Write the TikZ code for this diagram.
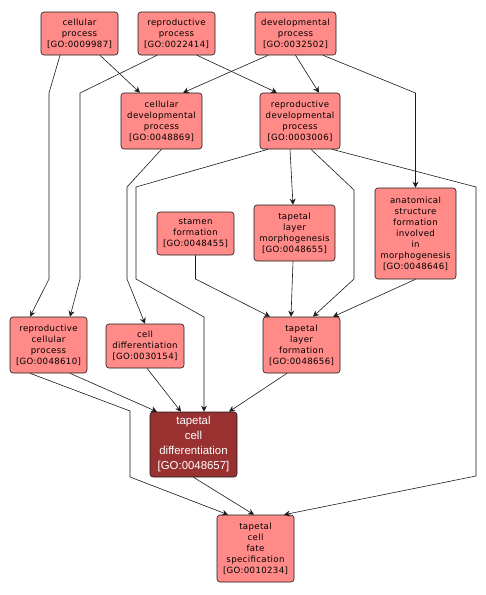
\documentclass[tikz,border=0pt]{standalone}
\usepackage{fontspec}
\setmainfont{DejaVu Sans}[LetterSpace=4]
\newfontfamily\hlfont{Liberation Sans}
\usepackage{xcolor}
\usepackage{tikz}
\usetikzlibrary{arrows.meta}
\definecolor{GOsalmon}{HTML}{FF8A87}
\definecolor{GOdark}{HTML}{9A3131}
\definecolor{GOedge}{HTML}{1A1A1A}

\tikzset{
  goterm/.style={draw=GOedge, fill=GOsalmon, rounded corners=3pt, line width=0.6pt,
    align=center, inner sep=0pt, font=\fontsize{8.6}{11}\selectfont},
  gohit/.style={goterm, fill=GOdark, text=white, font=\hlfont\fontsize{11.4}{15}\selectfont},
  isa/.style={GOedge, line width=0.6pt, -{Stealth[length=6pt,width=6pt,inset=2pt]}}
}

\begin{document}
\begin{tikzpicture}[x=1pt, y=-1pt]
  \useasboundingbox (0,0) rectangle (486,595);

  % terms
  \node[goterm, minimum width=77pt, minimum height=43pt] (cellproc) at (79.5,33.5)
    {cellular\\process\\{[}GO:0009987{]}};
  \node[goterm, minimum width=77pt, minimum height=43pt] (reproproc) at (176.5,33.5)
    {reproductive\\process\\{[}GO:0022414{]}};
  \node[goterm, minimum width=81pt, minimum height=43pt] (devproc) at (295.5,33.5)
    {developmental\\process\\{[}GO:0032502{]}};
  \node[goterm, minimum width=81pt, minimum height=56pt] (celldev) at (161.5,121)
    {cellular\\developmental\\process\\{[}GO:0048869{]}};
  \node[goterm, minimum width=80pt, minimum height=56pt] (reprodev) at (300,121)
    {reproductive\\developmental\\process\\{[}GO:0003006{]}};
  \node[goterm, minimum width=77pt, minimum height=43pt] (stamen) at (195.5,233.5)
    {stamen\\formation\\{[}GO:0048455{]}};
  \node[goterm, minimum width=81pt, minimum height=56pt] (tapmorph) at (294.5,233)
    {tapetal\\layer\\morphogenesis\\{[}GO:0048655{]}};
  \node[goterm, minimum width=81pt, minimum height=91pt] (anatform) at (415.5,233.5)
    {anatomical\\structure\\formation\\involved\\in\\morphogenesis\\{[}GO:0048646{]}};
  \node[goterm, minimum width=77pt, minimum height=56pt] (reprocell) at (48.5,345)
    {reproductive\\cellular\\process\\{[}GO:0048610{]}};
  \node[goterm, minimum width=78pt, minimum height=44pt] (celldiff) at (145,346)
    {cell\\differentiation\\{[}GO:0030154{]}};
  \node[goterm, minimum width=77pt, minimum height=56pt] (tapform) at (301.5,345)
    {tapetal\\layer\\formation\\{[}GO:0048656{]}};
  \node[gohit, minimum width=87pt, minimum height=65pt] (tapdiff) at (193.5,444.5)
    {tapetal\\cell\\differentiation\\{[}GO:0048657{]}};
  \node[goterm, minimum width=77pt, minimum height=67pt] (tapfate) at (255.5,548.5)
    {tapetal\\cell\\fate\\specification\\{[}GO:0010234{]}};

  % is_a links
  \draw[isa] ([xshift=20.5pt]cellproc.south) -- ([xshift=-21.5pt]celldev.north);
  \draw[isa] ([xshift=-19.5pt]cellproc.south) -- (49,93) -- (49,279) -- ([xshift=-18.5pt]reprocell.north);
  \draw[isa] ([xshift=-19.5pt]reproproc.south) -- (80,93) -- (80,279) -- ([xshift=21.5pt]reprocell.north);
  \draw[isa] ([xshift=20.5pt]reproproc.south) -- ([xshift=-23pt]reprodev.north);
  \draw[isa] ([xshift=-27.5pt]devproc.south) -- ([xshift=21.5pt]celldev.north);
  \draw[isa] (devproc.south) -- ([xshift=19pt]reprodev.north);
  \draw[isa] ([xshift=27.5pt]devproc.south) -- (415.5,93) -- (anatform.north);
  \draw[isa] (celldev.south) -- (127,187) -- (127,279) -- (celldiff.north);
  \draw[isa] ([xshift=-32pt]reprodev.south) -- (136,187) -- (136,279) -- (204,317) -- ([xshift=10.5pt]tapdiff.north);
  \draw[isa] ([xshift=-10pt]reprodev.south) -- ([xshift=-1.5pt]tapmorph.north);
  \draw[isa] ([xshift=11pt]reprodev.south) -- (354,190) -- (354,279) -- ([xshift=11.5pt]tapform.north);
  \draw[isa] ([xshift=32pt]reprodev.south) -- (476,187) -- (476,476) -- ([xshift=28.5pt]tapfate.north);
  \draw[isa] (stamen.south) -- (195.5,279) -- ([xshift=-31.5pt]tapform.north);
  \draw[isa] ([xshift=-1.5pt]tapmorph.south) -- ([xshift=-10.5pt]tapform.north);
  \draw[isa] (anatform.south) -- ([xshift=31.5pt]tapform.north);
  \draw[isa] ([xshift=21.5pt]reprocell.south) -- ([xshift=-36.5pt]tapdiff.north);
  \draw[isa] ([xshift=-18.5pt]reprocell.south) -- (130,411) -- (130,477) -- ([xshift=-27.5pt]tapfate.north);
  \draw[isa] ([xshift=2pt]celldiff.south) -- ([xshift=-12.5pt]tapdiff.north);
  \draw[isa] ([xshift=-14.5pt]tapform.south) -- ([xshift=35.5pt]tapdiff.north);
  \draw[isa] (tapdiff.south) -- ([xshift=-1.5pt]tapfate.north);
\end{tikzpicture}
\end{document}
